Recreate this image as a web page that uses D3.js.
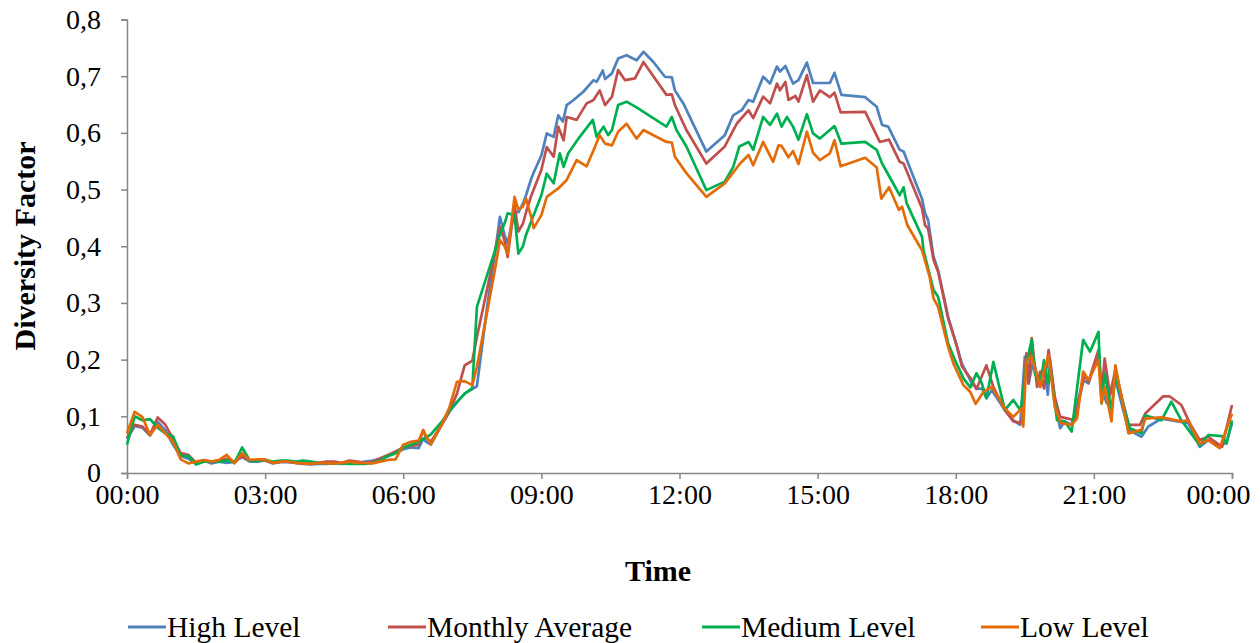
<!DOCTYPE html>
<html>
<head>
<meta charset="utf-8">
<script src="https://cdn.jsdelivr.net/npm/d3@7"></script>
<style>
  body { margin: 0; background: #fff; }
  text { font-family: "Liberation Serif", "Times New Roman", serif; fill: #000; }
</style>
</head>
<body>
<div id="chart-area"></div>
<script>
// minutes after midnight, shared by all series up to 09:00
var earlyTimes = [0,10,20,30,40,50,60,70,80,90,100,110,120,130,140,150,160,170,180,190,200,210,220,230,240,250,260,270,280,290,300,310,320,330,340,350,360,
    370,380,386,390,396,410,420,430,440,450,456,470,480,486,492,496,505,510,516,520,527,530,540];

var highEarly = [0.06,0.083,0.08,0.066,0.09,0.075,0.05,0.03,0.025,0.018,0.022,0.017,0.02,0.018,0.02,0.028,0.02,0.02,0.022,0.017,0.019,0.019,0.018,0.016,0.015,0.016,0.016,0.017,0.016,0.017,0.018,0.02,0.022,0.025,0.03,0.035,0.042,
    0.045,0.044,0.06,0.055,0.05,0.085,0.108,0.125,0.14,0.148,0.153,0.30,0.392,0.452,0.42,0.405,0.461,0.46,0.475,0.49,0.52,0.53,0.56];
var highLateT = [547,556,562,568,573,582,595,608,612,620,623,632,640,651,664,673,686,701,710,714,725,755,779,790,801,810,816,829,838,847,851,858,868,875,886,894,903,916,922,931,962,977,984,992,1007,1012,1036,1040,1044,1051,1057,1070,1079,1088,1101,1107,1114,1120,1127,1144,1155,1164,1170,1175,1181,1190,1195,1200,1203,1209,1216,1222,1231,1246,1253,1266,1270,1277,1288,1305,1322,1331,1348,1383,1398,1409,1424,1433,1440];
var highLateV = [0.599,0.593,0.631,0.62,0.649,0.658,0.673,0.693,0.69,0.71,0.695,0.705,0.731,0.737,0.728,0.743,0.725,0.699,0.698,0.675,0.652,0.567,0.596,0.631,0.64,0.658,0.655,0.699,0.687,0.717,0.708,0.718,0.687,0.693,0.724,0.688,0.688,0.688,0.706,0.667,0.663,0.646,0.614,0.611,0.570,0.567,0.484,0.458,0.446,0.382,0.358,0.276,0.235,0.193,0.158,0.149,0.149,0.132,0.146,0.111,0.093,0.085,0.205,0.158,0.199,0.152,0.188,0.138,0.199,0.129,0.079,0.091,0.085,0.164,0.158,0.211,0.146,0.123,0.164,0.076,0.064,0.082,0.096,0.088,0.046,0.058,0.046,0.055,0.088];

var avgEarly = [0.062,0.085,0.082,0.068,0.098,0.085,0.06,0.035,0.032,0.018,0.022,0.02,0.022,0.025,0.02,0.03,0.022,0.022,0.022,0.018,0.02,0.02,0.018,0.017,0.016,0.018,0.02,0.02,0.018,0.022,0.02,0.018,0.02,0.026,0.032,0.038,0.045,
    0.048,0.05,0.076,0.062,0.055,0.085,0.108,0.14,0.19,0.198,0.24,0.329,0.393,0.434,0.41,0.381,0.473,0.426,0.44,0.46,0.49,0.5,0.535];
var avgLateT = [547,556,562,569,573,586,599,608,616,623,632,640,649,662,673,688,703,710,714,729,755,779,795,810,816,829,838,847,851,858,862,871,875,886,894,903,916,922,930,962,981,993,1007,1012,1036,1040,1044,1051,1057,1070,1081,1088,1101,1107,1120,1129,1144,1155,1166,1172,1175,1179,1186,1190,1195,1201,1209,1216,1229,1235,1248,1253,1266,1270,1274,1281,1288,1305,1320,1327,1350,1359,1374,1385,1398,1409,1427,1440];
var avgLateV = [0.575,0.558,0.611,0.587,0.628,0.623,0.652,0.658,0.675,0.649,0.664,0.711,0.693,0.696,0.725,0.696,0.667,0.668,0.649,0.605,0.546,0.576,0.617,0.640,0.626,0.664,0.652,0.687,0.675,0.690,0.658,0.665,0.655,0.702,0.655,0.675,0.663,0.671,0.636,0.637,0.584,0.588,0.549,0.546,0.467,0.437,0.431,0.376,0.355,0.273,0.226,0.188,0.164,0.148,0.190,0.152,0.111,0.091,0.088,0.211,0.158,0.238,0.152,0.179,0.149,0.217,0.135,0.099,0.095,0.093,0.173,0.161,0.217,0.135,0.202,0.138,0.182,0.085,0.085,0.105,0.135,0.135,0.120,0.088,0.058,0.064,0.046,0.120];

var mediumEarly = [0.05,0.1,0.093,0.095,0.08,0.07,0.065,0.03,0.03,0.015,0.02,0.02,0.02,0.022,0.018,0.045,0.022,0.022,0.023,0.02,0.022,0.022,0.02,0.022,0.02,0.018,0.017,0.017,0.017,0.016,0.016,0.016,0.018,0.022,0.03,0.035,0.045,
    0.05,0.055,0.06,0.063,0.068,0.09,0.11,0.125,0.14,0.15,0.293,0.352,0.394,0.421,0.44,0.458,0.455,0.387,0.40,0.42,0.445,0.455,0.49];
var mediumLateT = [547,556,564,569,575,590,607,612,621,627,632,640,651,664,703,710,716,729,755,779,790,798,810,816,829,838,847,853,860,868,875,886,894,903,922,931,962,977,984,1007,1012,1016,1036,1038,1051,1057,1070,1079,1090,1099,1107,1114,1120,1129,1144,1155,1164,1166,1172,1179,1183,1190,1195,1200,1203,1212,1222,1231,1246,1255,1266,1270,1274,1283,1288,1307,1322,1327,1348,1361,1374,1398,1409,1427,1433,1440];
var mediumLateV = [0.528,0.511,0.564,0.540,0.564,0.593,0.623,0.593,0.611,0.596,0.605,0.649,0.655,0.645,0.611,0.628,0.605,0.576,0.499,0.514,0.540,0.576,0.584,0.570,0.628,0.614,0.634,0.611,0.628,0.611,0.588,0.633,0.599,0.590,0.612,0.581,0.584,0.570,0.546,0.490,0.504,0.476,0.417,0.393,0.323,0.311,0.229,0.199,0.167,0.151,0.176,0.158,0.132,0.196,0.111,0.129,0.111,0.123,0.193,0.235,0.176,0.155,0.199,0.158,0.188,0.093,0.091,0.073,0.235,0.214,0.249,0.123,0.176,0.111,0.170,0.079,0.070,0.102,0.093,0.126,0.093,0.049,0.067,0.065,0.052,0.093];

var lowEarly = [0.07,0.108,0.099,0.067,0.085,0.07,0.055,0.024,0.017,0.02,0.023,0.02,0.023,0.032,0.017,0.035,0.023,0.024,0.024,0.018,0.02,0.02,0.018,0.017,0.016,0.018,0.017,0.017,0.018,0.02,0.018,0.018,0.017,0.02,0.023,0.024,0.05,
    0.055,0.057,0.075,0.065,0.051,0.085,0.115,0.161,0.162,0.155,0.187,0.289,0.363,0.411,0.40,0.387,0.487,0.465,0.47,0.484,0.45,0.432,0.455];
var lowLateT = [547,562,573,586,599,610,616,623,632,640,651,664,673,703,710,714,729,755,779,799,810,816,829,842,849,853,862,868,875,886,894,903,916,922,930,962,977,983,993,1006,1010,1017,1036,1046,1051,1057,1070,1077,1090,1099,1106,1116,1127,1144,1155,1166,1168,1172,1179,1190,1196,1201,1209,1217,1231,1238,1246,1253,1266,1270,1274,1283,1288,1305,1322,1327,1348,1374,1383,1398,1409,1424,1440];
var lowLateV = [0.487,0.502,0.517,0.552,0.541,0.576,0.596,0.581,0.578,0.602,0.616,0.590,0.605,0.584,0.583,0.558,0.529,0.487,0.511,0.546,0.561,0.543,0.584,0.549,0.578,0.577,0.557,0.568,0.545,0.602,0.565,0.552,0.564,0.587,0.541,0.556,0.539,0.484,0.504,0.464,0.470,0.437,0.393,0.346,0.308,0.293,0.223,0.193,0.155,0.143,0.122,0.143,0.152,0.114,0.099,0.114,0.082,0.199,0.205,0.152,0.185,0.208,0.117,0.088,0.085,0.096,0.179,0.164,0.199,0.123,0.152,0.091,0.190,0.070,0.076,0.096,0.098,0.091,0.093,0.052,0.058,0.044,0.105];

var seriesNames = ["High Level", "Monthly Average", "Medium Level", "Low Level"];
var xTickValues = [0, 180, 360, 540, 720, 900, 1080, 1260, 1440];
var xTickLabels = ["00:00", "03:00", "06:00", "09:00", "12:00", "15:00", "18:00", "21:00", "00:00"];
var yTickValues = [0, 0.1, 0.2, 0.3, 0.4, 0.5, 0.6, 0.7, 0.8];

var colors = ["#4F81BD", "#C0504D", "#00B050", "#E36C09"];

var margin = { left: 127, right: 28, top: 19.5, bottom: 170 };
var width = 1105;
var height = 453.5;

var svg = d3.select("#chart-area").append("svg")
    .attr("width", 1260)
    .attr("height", 643);

var g = svg.append("g")
    .attr("transform", "translate(" + margin.left + ", " + margin.top + ")");

var x = d3.scaleLinear().domain([0, 1440]).range([0, width]);
var y = d3.scaleLinear().domain([0, 0.8]).range([height, 0]);

function build(times, vals) {
    return times.map((t, i) => ({ t: t, v: vals[i] }));
}

var series = [
    build(earlyTimes.concat(highLateT), highEarly.concat(highLateV)),
    build(earlyTimes.concat(avgLateT), avgEarly.concat(avgLateV)),
    build(earlyTimes.concat(mediumLateT), mediumEarly.concat(mediumLateV)),
    build(earlyTimes.concat(lowLateT), lowEarly.concat(lowLateV))
];

var axisColor = "#868686";

// y Axis
var yAxisCall = d3.axisLeft(y)
    .tickValues(yTickValues)
    .tickSize(6)
    .tickPadding(20)
    .tickFormat((d) => d === 0 ? "0" : d3.format(".1f")(d).replace(".", ","));
g.append("g")
    .attr("class", "y axis")
    .call(yAxisCall);

// x Axis
var xAxisCall = d3.axisBottom(x)
    .tickValues(xTickValues)
    .tickSize(6)
    .tickPadding(5)
    .tickFormat((d, i) => xTickLabels[i]);
g.append("g")
    .attr("class", "x axis")
    .attr("transform", "translate(0, " + height + ")")
    .call(xAxisCall);

g.selectAll(".axis .domain").attr("stroke", axisColor).attr("stroke-width", 1.5);
g.selectAll(".axis .tick line").attr("stroke", axisColor).attr("stroke-width", 1.5);
g.selectAll(".axis .tick text")
    .style("font-family", "'Liberation Serif', serif")
    .style("font-size", "28px")
    .attr("fill", "#000");

// last time label is pulled inside like the original
g.selectAll(".x.axis .tick text").filter((d, i) => i === xTickValues.length - 1)
    .attr("dx", -14);

// lines
var line = d3.line()
    .x((d) => x(d.t))
    .y((d) => y(d.v));

g.selectAll(".series")
    .data(series)
    .enter()
    .append("path")
        .attr("class", "series")
        .attr("d", line)
        .attr("fill", "none")
        .attr("stroke", (d, i) => colors[i])
        .attr("stroke-width", 2.7)
        .attr("stroke-linejoin", "round");

// axis titles
svg.append("text")
    .attr("x", 658)
    .attr("y", 581)
    .attr("text-anchor", "middle")
    .text("Time")
    .style("font-size", "30px")
    .style("font-weight", "bold");

svg.append("text")
    .attr("transform", "translate(35, 246) rotate(-90)")
    .attr("text-anchor", "middle")
    .text("Diversity Factor")
    .style("font-size", "30px")
    .style("font-weight", "bold");

// legend
var legendX = [128, 388, 702, 981];
var legend = svg.selectAll(".legend")
    .data(seriesNames)
    .enter()
    .append("g")
        .attr("class", "legend")
        .attr("transform", (d, i) => "translate(" + legendX[i] + ", 627)");

legend.append("line")
    .attr("x1", 0)
    .attr("x2", 38)
    .attr("y1", 0)
    .attr("y2", 0)
    .attr("stroke", (d, i) => colors[i])
    .attr("stroke-width", 3);

legend.append("text")
    .attr("x", 39)
    .attr("y", 10)
    .text((d) => d)
    .style("font-size", "29.5px");
</script>
</body>
</html>
